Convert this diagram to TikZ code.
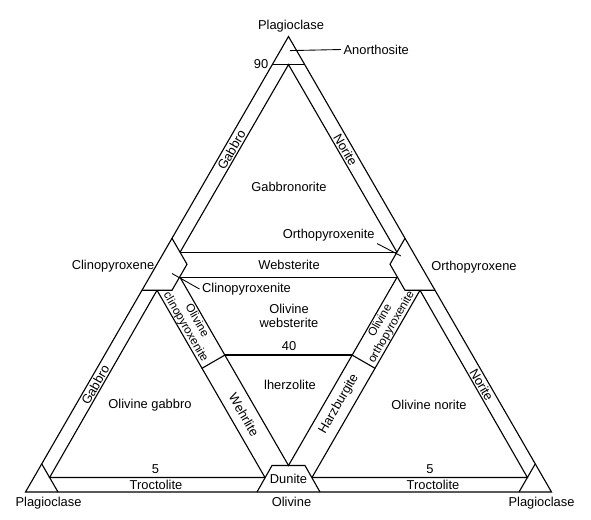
\documentclass[tikz,border=0pt]{standalone}
\usepackage{fontspec}
\setmainfont{Liberation Sans}
\usetikzlibrary{calc}
\tikzset{
  fld/.style={draw=black,line width=0.95pt,line join=miter},
  lbl/.style={font=\fontsize{11}{12}\selectfont,inner sep=0pt,align=center},
  bandlbl/.style={lbl,rotate=#1},
  pairlbl/.style={bandlbl=#1,font=\fontsize{10}{11}\selectfont},
  leadlbl/.style={lbl,inner sep=2pt},
  lead/.style={draw=black,line width=0.75pt},
}
\begin{document}
\begin{tikzpicture}[x=0.03cm,y=-0.03cm]
  \useasboundingbox (0,0) rectangle (591,519);
  % big triangle, plagioclase at all three corners
  \coordinate (plagT) at (288.5,36.5);
  \coordinate (plagL) at (25.5,492);
  \coordinate (plagR) at (551.5,492);
  \draw[fld] (plagT) -- (plagL) -- (plagR) -- cycle;

  % upper triangle: plag - cpx - opx
  \draw[fld] (272.3,64.6) -- (304.7,64.6);
  \draw[fld] (180,252.3) -- (288.5,64.6) -- (397,252.3);
  \draw[fld] (180,252.3) -- (397,252.3);
  \draw[fld] (179.5,277.3) -- (397.5,277.3);
  % pyroxenite corners
  \draw[fld] (172,238.3) -- (187,264.25) -- (172,290.25) -- (142,290.25);
  \draw[fld] (405,238.3) -- (390,264.25) -- (405,290.25) -- (435,290.25);

  % olivine - pyroxene bands
  \draw[fld] (180,277.3) -- (288.5,465.5) -- (397,277.3);
  \draw[fld] (157,290.25) -- (265,477.5);
  \draw[fld] (420,290.25) -- (312,477.5);
  \draw[fld] (225,355) -- (352,355);
  \draw[fld] (225,355) -- (201.8,368.4);
  \draw[fld] (352,355) -- (375.2,368.4);
  \draw[fld] (257,492) -- (272,465.5) -- (305,465.5) -- (320,492);

  % lower corners, gabbro / norite and troctolite bands
  \draw[fld] (58,492) -- (41.75,463.9);
  \draw[fld] (519,492) -- (535.25,463.9);
  \draw[fld] (157,290.25) -- (49.6,477.5) -- (265,477.5);
  \draw[fld] (420,290.25) -- (527.4,477.5) -- (312,477.5);

  \foreach \n/\x/\y/\t in {
      plagtop/291/26.5/Plagioclase,
      plagleft/48.5/503/Plagioclase,
      plagright/541.5/503/Plagioclase,
      olv/291.5/502/Olivine,
      cpx/113/266/Clinopyroxene,
      opx/474/267/Orthopyroxene,
      gbn/289/187/Gabbronorite,
      webst/289/265/Websterite,
      lherz/290/385/lherzolite,
      olgab/150/405/Olivine gabbro,
      olnor/429/405/Olivine norite,
      dun/288.5/479/Dunite,
      troL/156/485/Troctolite,
      troR/433/485/Troctolite,
      fiveL/155.5/469/5,
      fiveR/430/469/5,
      forty/289/346/40,
      ninety/261/64/90}
    \node[lbl] (\n) at (\x,\y) {\t};
  \node[lbl] (olweb) at (289,316) {Olivine\\websterite};

  % labels inside the bands
  \node[bandlbl=60] (gabU) at (231.5,150) {Gabbro};
  \node[bandlbl=-60] (norU) at (345.5,150) {Norite};
  \node[bandlbl=60] (gabL) at (95.3,385) {Gabbro};
  \node[bandlbl=-60] (norL) at (481.7,385) {Norite};
  \node[pairlbl=-60] (olcpx) at (191,324) {Olivine\\clinopyroxenite};
  \node[pairlbl=60] (olopx) at (386,324) {Olivine\\orthopyroxenite};
  \node[bandlbl=-60] (wehr) at (244,415) {Wehrlite};
  \node[bandlbl=60] (harz) at (339,404) {Harzburgite};

  % leaders
  \coordinate (anpt) at (290,50.6);
  \coordinate (cpxpt) at (172,273.5);
  \coordinate (opxpt) at (401,256);
  \node[leadlbl,anchor=west] (anor) at (341,49.5) {Anorthosite};
  \node[leadlbl] (clpx) at (246.5,289) {Clinopyroxenite};
  \node[leadlbl] (orpx) at (328.7,235) {Orthopyroxenite};
  \draw[lead] (anor.west) -- (anpt);
  \draw[lead] (clpx.west) -- (cpxpt);
  \draw[lead] (orpx.south east) -- (opxpt);
\end{tikzpicture}
\end{document}
